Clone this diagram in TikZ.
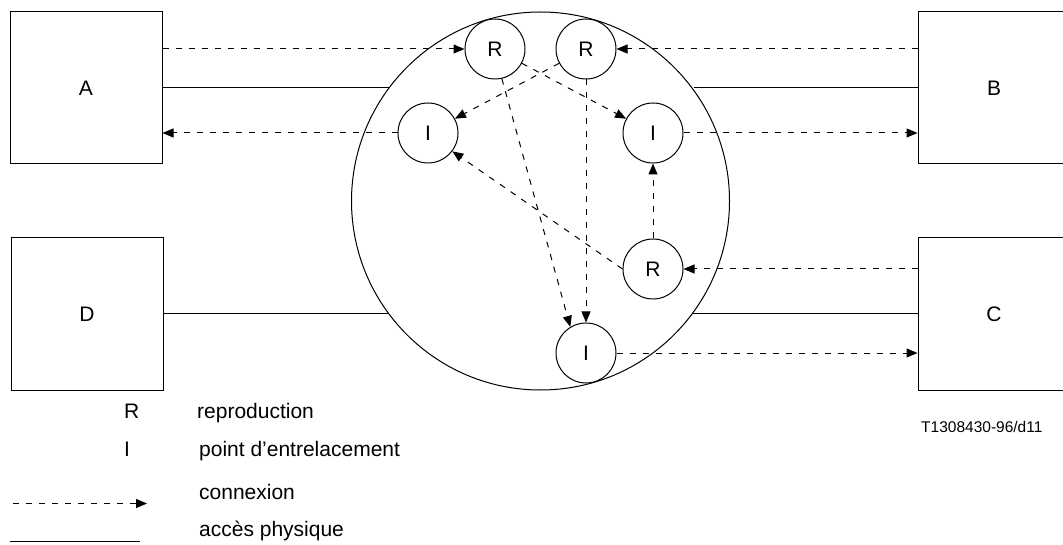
\documentclass[tikz,border=0pt]{standalone}
\usepackage{fontspec}
\setmainfont{Liberation Sans}
\usetikzlibrary{arrows.meta,positioning}

\begin{document}
\begin{tikzpicture}[x=1pt, y=-1pt,
                    every node/.style={inner sep=0pt, font=\fontsize{21}{24}\selectfont},
                    box/.style={draw, rectangle, minimum width=152pt, minimum height=152pt, line width=1pt},
                    pt/.style={draw, circle, fill=white, minimum size=60pt, line width=1pt},
                    conn/.style={line width=1pt, dash pattern=on 6pt off 7pt, -{Triangle[length=11pt,width=9pt]}},
                    phys/.style={line width=1pt}]
                        \useasboundingbox (0,0) rectangle (1063,545);
                        % network
                        \node[draw, circle, minimum size=378pt, line width=1pt] (net) at (540.5,201) {};
                        \node[box] (A) at (86,88) {A};
                        \node[box] (B) at (994,88) {B};
                        \node[box] (C) at (994,314) {C};
                        \node[box] (D) at (87,314) {D};
                        \node[pt] (R1) at (495,49) {R};
                        \node[pt] (R2) at (586,49) {R};
                        \node[pt] (I1) at (428,133) {I};
                        \node[pt] (I2) at (653,133) {I};
                        \node[pt] (R3) at (653,269) {R};
                        \node[pt] (I3) at (586,353) {I};
                        % physical access
                        \draw[phys] (A.east) -- (A.east -| net.143.3);
                        \draw[phys] (B.west) -- (B.west -| net.36.7);
                        \draw[phys] (D.east) -- (D.east -| net.217);
                        \draw[phys] (C.west) -- (C.west -| net.-37);
                        % connections
                        \draw[conn] (R1 -| A.east) -- (R1.west);
                        \draw[conn] (R2 -| B.west) -- (R2.east);
                        \draw[conn] (I1.west) -- (I1 -| A.east);
                        \draw[conn] (I2.east) -- (I2 -| B.west);
                        \draw[conn] (R3 -| C.west) -- (R3.east);
                        \draw[conn] (I3.east) -- (I3 -| C.west);
                        \draw[conn] (R1) -- (I2);
                        \draw[conn] (R2) -- (I1);
                        \draw[conn] (R1.-77) -- (I3.121);
                        \draw[conn] (R2.south) -- (I3.north);
                        \draw[conn] (R3.west) -- (I1.-37);
                        \draw[conn] (R3.north) -- (I2.south);
                        % legend
                        \node[anchor=base west] (keyR) at (124,418) {R};
                        \node[anchor=base west] (keyRtxt) at (197,418) {reproduction};
                        \node[anchor=base west] (keyI) at (124,456) {I};
                        \node[anchor=base west] (keyItxt) at (199,456) {point d’entrelacement};
                        \coordinate (cs) at (13,503.5);
                        \coordinate (ce) at (147,503.5);
                        \draw[conn] (cs) -- (ce);
                        \node[anchor=base west] (keyC) at (199,499) {connexion};
                        \coordinate (ps) at (10,541);
                        \coordinate (pe) at (140,541);
                        \draw[phys] (ps) -- (pe);
                        \node[anchor=base west] (keyP) at (199,536) {accès physique};
                        \node[anchor=base west, font=\fontsize{15.5}{18}\selectfont] (ref) at (921,432) {T1308430-96/d11};
                        \end{tikzpicture}
\end{document}
